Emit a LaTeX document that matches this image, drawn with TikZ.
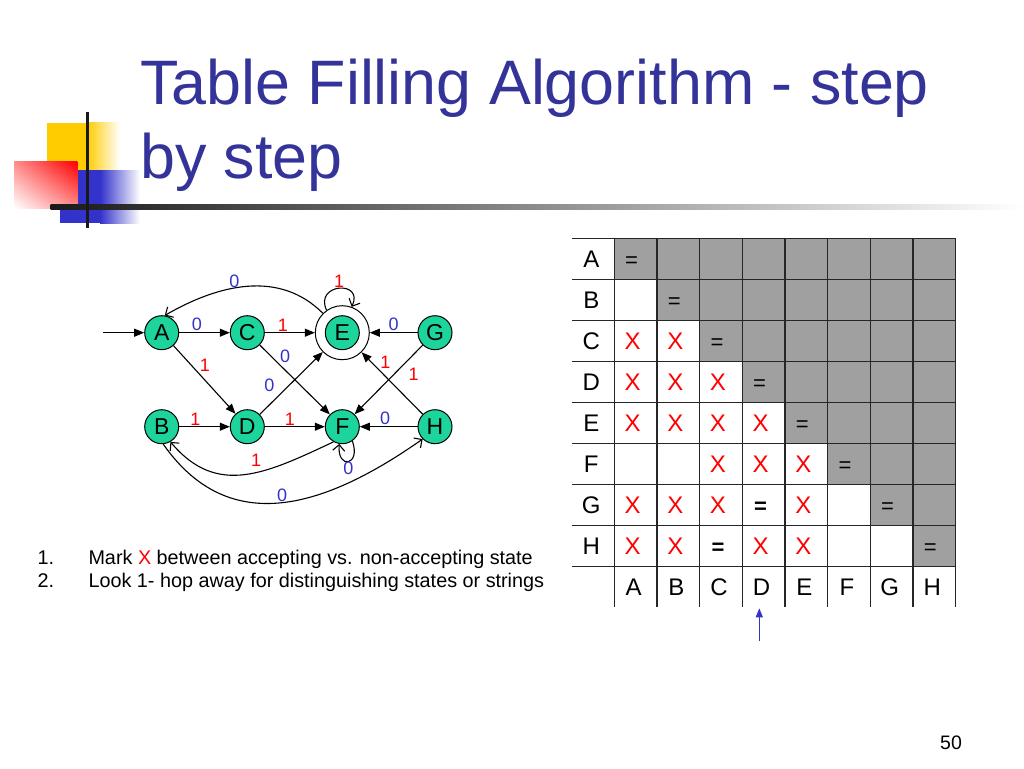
\documentclass[tikz,border=0pt]{standalone}
\usepackage{fontspec}
\setmainfont{Liberation Sans}
\usetikzlibrary{arrows.meta,positioning,shadings}

\definecolor{titleblue}{RGB}{51,51,153}
\definecolor{zeroblue}{RGB}{51,51,204}
\definecolor{onered}{RGB}{255,0,0}
\definecolor{statefill}{RGB}{28,212,156}
\definecolor{cellgray}{RGB}{160,160,160}
\definecolor{logoyellow}{RGB}{255,204,0}
\definecolor{logored}{RGB}{255,0,0}
\definecolor{logoblue}{RGB}{51,51,204}

\def\cw{42.67}
\def\rh{41}

\begin{document}
\begin{tikzpicture}[x=1pt,y=1pt,
    state/.style={circle,draw,line width=1pt,fill=statefill,minimum size=34pt,inner sep=0pt,font=\fontsize{23}{23}\selectfont},
    accept/.style={circle,draw,line width=1pt,fill=white,minimum size=54pt,inner sep=0pt},
    edge/.style={line width=1.1pt,-{Triangle[length=10pt,width=8pt]}},
    curvy/.style={line width=1.1pt,-{Straight Barb[length=6pt,width=12pt]}},
    zero/.style={text=zeroblue,inner sep=1pt,font=\fontsize{18}{18}\selectfont},
    one/.style={text=onered,inner sep=1pt,font=\fontsize{18}{18}\selectfont},
    grid/.style={line width=1.2pt,black!85},
    cell/.style={inner sep=0pt,font=\fontsize{24}{24}\selectfont},
    crossmark/.style={cell,text=onered},
    eq/.style={cell,font=\fontsize{22}{22}\selectfont},
    eqb/.style={cell,font=\fontsize{22}{22}\selectfont\bfseries},
    item/.style={anchor=base west,inner sep=0pt,font=\fontsize{19.8}{23}\selectfont},
    title/.style={anchor=base west,inner sep=0pt,text=titleblue,font=\fontsize{62.8}{74}\selectfont}]
\useasboundingbox (0,0) rectangle (1024,-768);

% logo
\fill[logoyellow] (46.7,-122.7) rectangle (87,-170);
\shade[left color=logoyellow,right color=white] (87,-122.7) rectangle (120,-170);
\fill[logoblue] (60,-170) rectangle (100,-223.3);
\shade[left color=logoblue,right color=white] (100,-170) rectangle (140,-223.3);
\shade[upper right=logored,upper left=logored!45!white,lower right=logored!45!white,lower left=white] (14,-161.7) rectangle (77.3,-208.3);
\shade[left color=black!90,right color=white] (50.7,-204.5) rectangle (1024,-209);
\draw[line width=3.3pt,black!90] (87.3,-111.7) -- (87.3,-228.3);

% title
\node[title] (title1) at (140,-104) {Table Filling Algorithm - step};
\node[title] (title2) at (140,-178) {by step};

% automaton
\path (161.7,-332.7) node[state] (A) {A}
    ++(85.6,0) node[state] (C) {C}
    ++(95,0) node[accept] (E) {}
    ++(92.7,0) node[state] (G) {G};
\node[state] (e) at (E) {E};
\path (161.7,-426.7) node[state] (B) {B}
    ++(85.6,0) node[state] (D) {D}
    ++(95,0) node[state] (F) {F}
    ++(92.7,0) node[state] (H) {H};
\coordinate (start) at (103,-332.7);

\draw[edge] (start) -- (A);
\draw[edge] (A) -- node[zero,pos=0.35,above] {0} (C);
\draw[edge] (C) -- node[one,pos=0.36,above] {1} (E);
\draw[edge] (G) -- node[zero,above] {0} (E);
\draw[edge] (A) -- node[one,pos=0.4,anchor=south west] {1} (D);
\draw[edge] (C) -- node[zero,pos=0.27,anchor=south west] {0} (F);
\draw[edge] (D) -- node[zero,pos=0.3,above left=4pt] {0} (E);
\draw[edge] (H) -- node[one,pos=0.72,anchor=south west] {1} (E);
\draw[edge] (G) -- node[one,pos=0.27,below right=4pt] {1} (F);
\draw[edge] (B) -- node[one,pos=0.32,above] {1} (D);
\draw[edge] (D) -- node[one,pos=0.42,above] {1} (F);
\draw[edge] (H) -- node[zero,pos=0.56,above] {0} (F);

\draw[curvy] (E.135) to[out=135,in=30] node[zero,pos=0.58,above=-1pt] {0} (A.80);
\draw[curvy] (E.125) to[out=115,in=65,looseness=3] node[one,above=-1pt] {1} (E.70);
\draw[curvy] (F.-55) to[out=-70,in=-95,looseness=5] node[zero,below=-1pt] {0} (F.-100);
\draw[curvy] (F.-120) to[out=-155,in=-50,looseness=1.15] node[one,pos=0.43,above=4pt] {1} (B.-60);
\draw[curvy] (B.-85) to[out=-55,in=-145,looseness=1.15] node[zero,pos=0.5,above=-1pt] {0} (H.-135);

% table
\begin{scope}[shift={(614.3,-238.3)}]
  \foreach \i in {1,...,8}
    \foreach \j in {\i,...,8}
      \fill[cellgray] ({(\j-1)*\cw},{-(\i-1)*\rh}) rectangle ({\j*\cw},{-\i*\rh});
  \foreach \i in {0,...,8}
    \draw[grid] (-42.6,{-\i*\rh}) -- ({8*\cw},{-\i*\rh});
  \foreach \j in {0,...,8}
    \draw[grid] ({\j*\cw},0) -- ({\j*\cw},{-9*\rh});
  \foreach \l [count=\i] in {A,B,C,D,E,F,G,H} {
    \node[cell] (r\l) at (-23,{-(\i-0.5)*\rh}) {\l};
    \node[cell] (c\l) at ({(\i-0.5)*\cw-2},{-8.5*\rh}) {\l};
    \node[eq] (d\l) at ({(\i-0.5)*\cw-4},{-(\i-0.5)*\rh-3}) {=};
  }
  % distinguished pairs
  \foreach \i/\j in {3/1,3/2,4/1,4/2,4/3,5/1,5/2,5/3,5/4,6/3,6/4,6/5,7/1,7/2,7/3,7/5,8/1,8/2,8/4,8/5}
    \node[crossmark] (x\i\j) at ({(\j-0.5)*\cw-3},{-(\i-0.5)*\rh}) {X};
  % equal pairs
  \node[eqb] (q74) at ({3.5*\cw-3},{-6.5*\rh-3}) {=};
  \node[eqb] (q83) at ({2.5*\cw-3},{-7.5*\rh-3}) {=};
\end{scope}
\coordinate (ptr) at (759.3,-641);
\coordinate (ptrtip) at (759.3,-608.3);
\draw[line width=1.1pt,zeroblue,-{Triangle[length=9pt,width=7pt]}] (ptr) -- (ptrtip);

% notes
\node[item] (n1) at (37.3,-564) {1.};
\node[item] (t1) at (88.3,-564) {Mark \textcolor{onered}{X} between accepting vs. non-accepting state};
\node[item] (n2) at (37.3,-587) {2.};
\node[item] (t2) at (88.3,-587) {Look 1- hop away for distinguishing states or strings};

\node[anchor=base west,inner sep=0pt,font=\fontsize{19.5}{20}\selectfont] (pageno) at (940,-749.3) {50};
\end{tikzpicture}
\end{document}
